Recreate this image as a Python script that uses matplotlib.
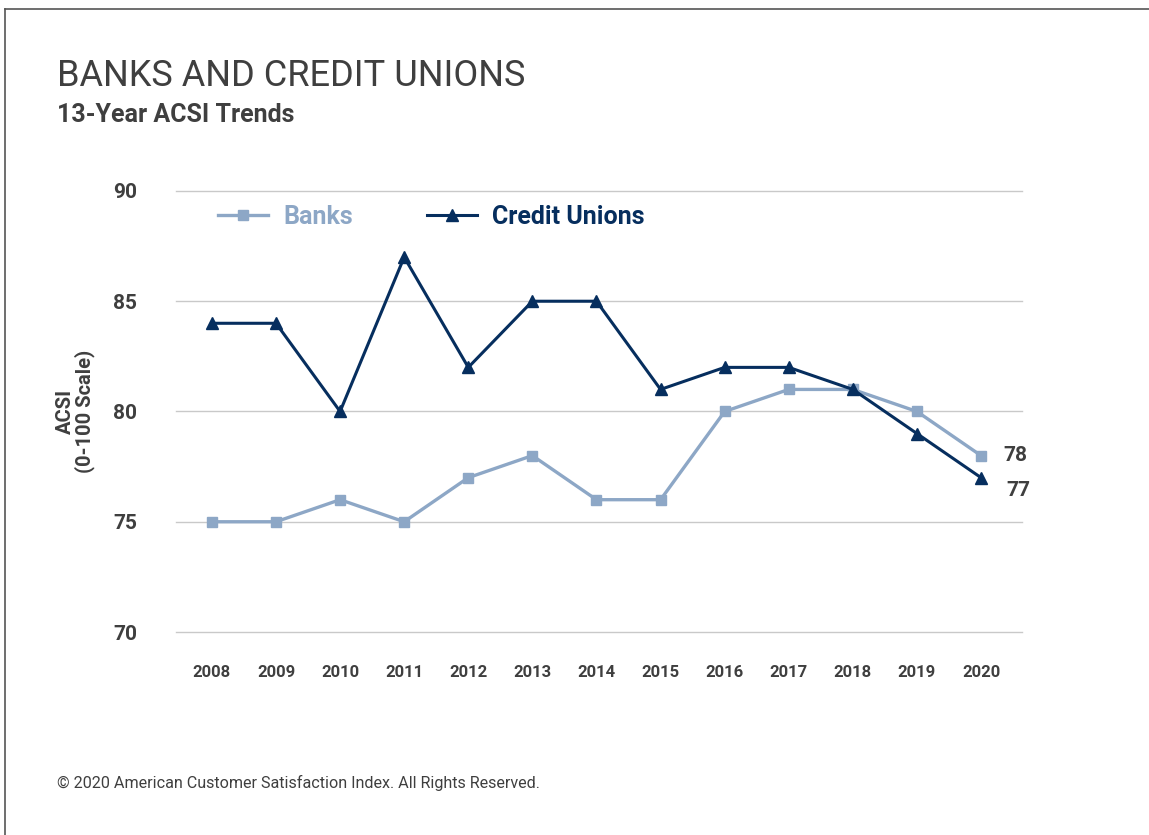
import matplotlib
matplotlib.use("Agg")
import matplotlib.pyplot as plt
from matplotlib.lines import Line2D

# ACSI scores, 2008-2020
years = ["2008", "2009", "2010", "2011", "2012", "2013", "2014",
         "2015", "2016", "2017", "2018", "2019", "2020"]
banks = [75, 75, 76, 75, 77, 78, 76, 76, 80, 81, 81, 80, 78]
credit_unions = [84, 84, 80, 87, 82, 85, 85, 81, 82, 82, 81, 79, 77]
y_ticks = [70, 75, 80, 85, 90]

BANK_COLOR = "#8DA7C6"
CU_COLOR = "#062E5E"
TEXT_COLOR = "#3F3F3F"

plt.rcParams['font.family'] = ['Roboto', 'DejaVu Sans']

fig = plt.figure(figsize=(11.49, 8.35), dpi=100)
ax = fig.add_axes([0.1532, 0.2431, 0.7363, 0.5282])

x = list(range(len(years)))
ax.plot(x, banks, color=BANK_COLOR, lw=2.4, marker="s", ms=7,
        label="Banks", zorder=3)
ax.plot(x, credit_unions, color=CU_COLOR, lw=2.2, marker="^", ms=9,
        label="Credit Unions", zorder=4)

ax.set_xlim(-0.56, len(years) - 1 + 0.64)
ax.set_ylim(70, 90)
ax.set_yticks(y_ticks)
ax.set_xticks(x)
ax.set_xticklabels(years)
ax.grid(axis="y", color="#C9C9C9", lw=1)
for gl in ax.get_ygridlines():
    gl.set_clip_on(False)
ax.set_axisbelow(True)
for s in ax.spines.values():
    s.set_visible(False)
ax.tick_params(axis="y", length=0, pad=28, labelsize=15, labelcolor=TEXT_COLOR)
ax.tick_params(axis="x", length=0, pad=24, labelsize=12, labelcolor=TEXT_COLOR)
for lbl in ax.get_xticklabels() + ax.get_yticklabels():
    lbl.set_fontweight("bold")

ax.set_ylabel("ACSI\n(0-100 Scale)", fontsize=14.5, fontweight="bold",
              color=TEXT_COLOR, labelpad=13, linespacing=0.95)

# end-of-line value labels
ax.annotate(str(banks[-1]), (x[-1], banks[-1]), xytext=(16, 0),
            textcoords="offset points", va="center", ha="left",
            fontsize=15, fontweight="bold", color=TEXT_COLOR)
ax.annotate(str(credit_unions[-1]), (x[-1], credit_unions[-1]), xytext=(18, -9.5),
            textcoords="offset points", va="center", ha="left",
            fontsize=15, fontweight="bold", color=TEXT_COLOR)

leg = ax.legend(loc="upper left", bbox_to_anchor=(0.0236, 1.02), ncol=2,
                frameon=False, handlelength=2.0, columnspacing=2.95,
                handletextpad=0.6, prop={"size": 18, "weight": "bold"})
for txt, c in zip(leg.get_texts(), [BANK_COLOR, CU_COLOR]):
    txt.set_color(c)

fig.text(57 / 1149, 1 - 76 / 835, "BANKS AND CREDIT UNIONS", fontsize=26,
         fontweight="normal", color=TEXT_COLOR, va="center", ha="left")
fig.text(57 / 1149, 1 - 115 / 835, "13-Year ACSI Trends", fontsize=18,
         fontweight="bold", color=TEXT_COLOR, va="center", ha="left")
fig.text(57 / 1149, 1 - 783 / 835,
         "\u00a9 2020 American Customer Satisfaction Index. All Rights Reserved.",
         fontsize=11.6, color=TEXT_COLOR, va="center", ha="left")

# frame lines on the left and top
fig.add_artist(Line2D([5 / 1149, 5 / 1149], [0, 1 - 9 / 835],
                      transform=fig.transFigure, color="#555555", lw=1.2))
fig.add_artist(Line2D([5 / 1149, 1], [1 - 9 / 835, 1 - 9 / 835],
                      transform=fig.transFigure, color="#555555", lw=1.2))

fig.savefig("out.png", dpi=100)
